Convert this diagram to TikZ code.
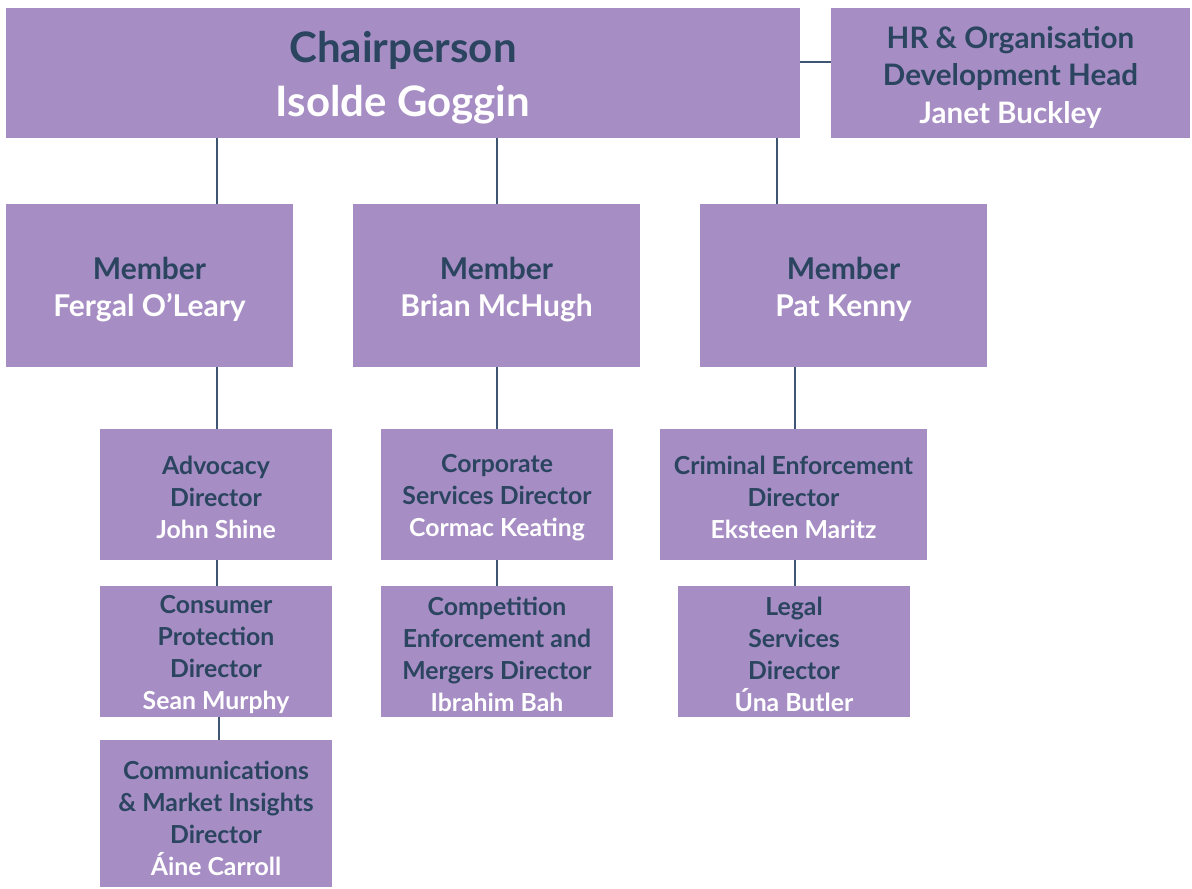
\documentclass[tikz,border=0pt]{standalone}
\usepackage{fontspec}
\setmainfont{Lato}
\usepackage{xcolor}
\usepackage{tikz}
\definecolor{lilla}{HTML}{A68DC4}
\definecolor{notte}{HTML}{2B4560}
\definecolor{linea}{HTML}{3E5573}
\newcommand{\nome}[1]{{\color{white}#1}}
\newcommand{\alza}[1]{\rule{0pt}{#1}}

\begin{document}
\begin{tikzpicture}[x=0.5pt, y=-0.5pt,
    scatola/.style={fill=lilla, inner sep=0pt, align=center, text=notte},
    capo/.style={scatola, font=\fontsize{21}{27}\selectfont\bfseries},
    membro/.style={scatola, minimum width=143.5pt, minimum height=81.5pt,
        font=\fontsize{15}{18.5}\selectfont\bfseries},
    direttore/.style={scatola, minimum width=116pt, minimum height=65.5pt,
        font=\fontsize{12.4}{16}\selectfont\bfseries},
    filo/.style={draw=linea, line width=0.6pt}]
    \useasboundingbox (0,0) rectangle (1192,888);
    % Vertice
    \node[capo, minimum width=397pt, minimum height=65pt] (chair) at (403,73)
        {\alza{20.5pt}Chairperson\\ \nome{Isolde Goggin}};
    \node[scatola, minimum width=179.5pt, minimum height=65pt,
        font=\fontsize{14.8}{18.75}\selectfont\bfseries] (hr) at (1010.5,73)
        {\alza{15.1pt}HR \& Organisation\\ Development Head\\ \nome{Janet Buckley}};
    % Membri
    \node[membro] (m1) at (149.5,285.5) {\alza{15.1pt}Member\\ \nome{Fergal O’Leary}};
    \node[membro] (m2) at (496.5,285.5) {\alza{15.1pt}Member\\ \nome{Brian McHugh}};
    \node[membro] (m3) at (843.5,285.5) {\alza{15.1pt}Member\\ \nome{Pat Kenny}};
    % Direttori, prima colonna
    \node[direttore] (adv) at (216,494.5)
        {\alza{12.2pt}Advocacy\\ Director\\ \nome{John Shine}};
    \node[direttore] (cons) at (216,651.5)
        {\alza{12.2pt}Consumer\\ Protection\\ Director\\ \nome{Sean Murphy}};
    \node[direttore, minimum height=73.5pt] (comm) at (216,813.5)
        {\alza{14pt}Communications\\ \& Market Insights\\ Director\\ \nome{Áine Carroll}};
    % Seconda colonna
    \node[direttore] (corp) at (497,494.5)
        {\alza{12.2pt}Corporate\\ Services Director\\ \nome{Cormac Keating}};
    \node[direttore] (comp) at (497,651.5)
        {\alza{12.2pt}Competition\\ Enforcement and\\ Mergers Director\\ \nome{Ibrahim Bah}};
    % Terza colonna
    \node[direttore, minimum width=133.5pt] (crim) at (793.5,494.5)
        {\alza{12.2pt}Criminal Enforcement\\ Director\\ \nome{Eksteen Maritz}};
    \node[direttore] (legal) at (794,651.5)
        {\alza{12.2pt}Legal\\ Services\\ Director\\ \nome{Úna Butler}};
    % Collegamenti
    \coordinate (x1) at (217,0);
    \coordinate (x2) at (497,0);
    \coordinate (x3) at (777,0);
    \coordinate (x4) at (795,0);
    \coordinate (x5) at (219,0);
    \coordinate (yh) at (0,62);
    \draw[filo] (chair.east |- yh) -- (hr.west |- yh);
    \draw[filo] (chair.south -| x1) -- (m1.north -| x1);
    \draw[filo] (chair.south -| x2) -- (m2.north -| x2);
    \draw[filo] (chair.south -| x3) -- (m3.north -| x3);
    \draw[filo] (m1.south -| x1) -- (adv.north -| x1);
    \draw[filo] (adv.south -| x1) -- (cons.north -| x1);
    \draw[filo] (cons.south -| x5) -- (comm.north -| x5);
    \draw[filo] (m2.south -| x2) -- (corp.north -| x2);
    \draw[filo] (corp.south -| x2) -- (comp.north -| x2);
    \draw[filo] (m3.south -| x4) -- (crim.north -| x4);
    \draw[filo] (crim.south -| x4) -- (legal.north -| x4);
\end{tikzpicture}
\end{document}
